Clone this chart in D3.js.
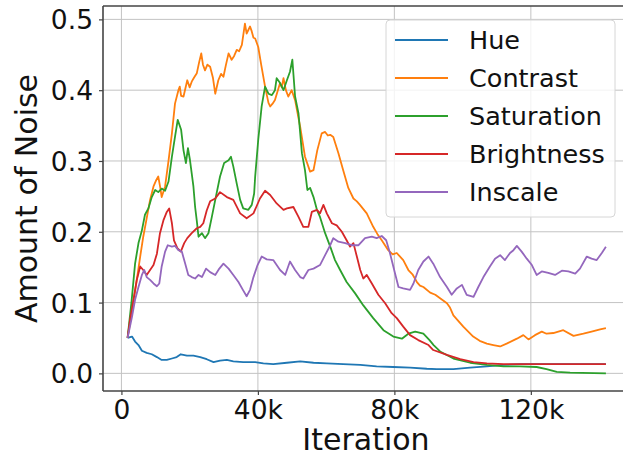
<!DOCTYPE html>
<html>
<head>
<meta charset="utf-8">
<script src="https://cdn.jsdelivr.net/npm/d3@7"></script>
<style>
  html, body { margin: 0; padding: 0; background: #fff; }
  svg { display: block; font-family: "DejaVu Sans", sans-serif; }
</style>
</head>
<body>
<svg id="chart" width="623" height="455"></svg>
<script>
// Noise amount per augmentation, sampled over training iterations (in thousands)
const hue = [[1.8,0.050],[3.1,0.052],[4,0.045],[5,0.040],[6,0.032],[7.4,0.029],[8.9,0.027],[10.4,0.023],[11.8,0.019],[13.3,0.019],[14.8,0.021],[16.2,0.023],[17.4,0.027],[19.2,0.025],[21.1,0.025],[23.1,0.023],[25,0.020],[27,0.016],[28.9,0.018],[30.9,0.019],[32.8,0.017],[35.7,0.016],[39.2,0.016],[41.6,0.014],[44.5,0.013],[48.5,0.015],[52.4,0.017],[56.3,0.015],[60.2,0.014],[65,0.013],[70,0.012],[74.8,0.010],[79.7,0.009],[84.6,0.008],[89.5,0.0065],[92.4,0.006],[97.3,0.006],[102.2,0.008],[107.1,0.010],[112,0.012],[116.8,0.013],[121.7,0.013],[130,0.013],[142,0.013]];

const contrast = [[1.8,0.050],[3,0.085],[4.5,0.132],[5.5,0.165],[6.4,0.193],[7.4,0.219],[8.4,0.245],[9.4,0.264],[10.1,0.272],[10.8,0.278],[11.4,0.262],[11.8,0.249],[12.8,0.264],[13.8,0.300],[14.8,0.339],[15.7,0.381],[16.7,0.400],[17.1,0.405],[17.5,0.392],[18.2,0.391],[19.3,0.414],[20.0,0.404],[20.6,0.412],[21.3,0.418],[22.1,0.424],[22.8,0.440],[23.4,0.452],[23.9,0.436],[24.5,0.428],[25.2,0.436],[26,0.433],[26.8,0.418],[27.5,0.395],[28.4,0.414],[29.2,0.423],[29.9,0.419],[30.6,0.435],[31.4,0.452],[32.3,0.443],[33.0,0.448],[33.8,0.457],[34.5,0.455],[35.3,0.464],[36.2,0.494],[36.7,0.480],[37.2,0.485],[37.7,0.490],[38.2,0.483],[38.7,0.474],[39.2,0.473],[40.1,0.461],[41.0,0.435],[42.1,0.405],[43.1,0.382],[43.6,0.377],[44.3,0.381],[45,0.386],[46.5,0.410],[47.0,0.404],[47.5,0.417],[48.2,0.400],[48.9,0.391],[49.9,0.400],[50.9,0.386],[52.4,0.348],[53.8,0.306],[55.3,0.285],[56.3,0.287],[57.4,0.315],[58.7,0.339],[59.7,0.341],[60.5,0.336],[61.2,0.337],[62.1,0.334],[63.6,0.311],[65,0.287],[66.5,0.262],[68,0.247],[69.0,0.243],[69.9,0.238],[71.9,0.226],[73.8,0.207],[75.0,0.197],[76.3,0.188],[78.2,0.174],[79.5,0.168],[80.7,0.170],[82.6,0.160],[84.1,0.146],[85.3,0.140],[86.6,0.129],[87.5,0.124],[88.5,0.122],[90.5,0.114],[92.0,0.111],[93.4,0.106],[95.4,0.099],[96.3,0.093],[97.3,0.082],[100.2,0.066],[103.1,0.052],[105,0.046],[107.1,0.042],[109,0.040],[111,0.038],[112.9,0.042],[115.9,0.049],[117.8,0.054],[119.3,0.048],[121.2,0.054],[123.2,0.059],[124.6,0.056],[126.6,0.057],[129.5,0.061],[132.5,0.053],[135.4,0.056],[137.8,0.059],[140.3,0.062],[142,0.064]];

const saturation = [[1.8,0.050],[3,0.103],[4,0.155],[5,0.184],[6,0.202],[6.9,0.224],[7.9,0.233],[8.9,0.249],[9.9,0.259],[10.8,0.256],[11.8,0.261],[12.8,0.258],[13.8,0.271],[14.8,0.306],[15.7,0.334],[16.5,0.358],[17.5,0.344],[18.2,0.315],[18.9,0.297],[19.5,0.318],[20.1,0.301],[21.1,0.264],[21.6,0.235],[22.1,0.215],[22.6,0.193],[23.6,0.198],[24.5,0.191],[25.5,0.198],[26.5,0.221],[27.5,0.245],[28.9,0.278],[30.1,0.297],[31.4,0.301],[32.1,0.306],[32.8,0.292],[33.8,0.268],[34.8,0.245],[35.7,0.233],[37.2,0.231],[38.2,0.238],[38.9,0.254],[39.2,0.278],[40.1,0.330],[41.1,0.377],[42.1,0.405],[43.1,0.395],[44.1,0.393],[45,0.400],[45.5,0.417],[46.5,0.410],[47.5,0.400],[48.5,0.414],[49.4,0.426],[50.1,0.443],[50.9,0.391],[51.9,0.367],[52.9,0.311],[53.8,0.287],[54.5,0.259],[55.3,0.262],[56.3,0.249],[57.3,0.231],[58.2,0.221],[59.7,0.198],[61.2,0.179],[62.6,0.160],[64.1,0.146],[66,0.129],[68.5,0.113],[70.9,0.096],[73.8,0.078],[76.8,0.061],[79.7,0.052],[82.2,0.049],[84.1,0.056],[86.1,0.059],[88.5,0.056],[90.3,0.047],[91.5,0.040],[93.4,0.031],[97.3,0.021],[102.2,0.015],[107.1,0.012],[112,0.010],[116.8,0.010],[121.7,0.009],[124.6,0.006],[127.6,0.002],[131.5,0.001],[142,0.000]];

const brightness = [[1.8,0.050],[2.5,0.075],[3.5,0.103],[4.5,0.132],[5.5,0.151],[6.4,0.146],[7.4,0.139],[8.4,0.146],[9.4,0.153],[10.4,0.169],[11.3,0.198],[12.3,0.216],[13.3,0.228],[14,0.233],[14.8,0.212],[15.4,0.188],[16.4,0.177],[17.4,0.172],[18.4,0.184],[19.3,0.191],[20.6,0.198],[22.1,0.205],[23.1,0.207],[24,0.212],[25,0.230],[26,0.243],[27.5,0.247],[28.9,0.256],[30.9,0.249],[32.8,0.245],[34.8,0.226],[36.7,0.219],[38.7,0.226],[40.6,0.247],[42.1,0.258],[43.6,0.252],[45.5,0.240],[47.5,0.231],[48.5,0.233],[50.4,0.235],[51.9,0.221],[53.3,0.207],[54.8,0.207],[55.8,0.228],[57.3,0.231],[58.2,0.226],[59.2,0.238],[60.2,0.226],[61.7,0.212],[63.1,0.209],[64.6,0.200],[66,0.188],[67,0.179],[68,0.184],[69,0.165],[70,0.146],[70.9,0.134],[71.9,0.139],[73.4,0.127],[75.3,0.111],[77.3,0.099],[79.2,0.085],[80.7,0.078],[82.6,0.066],[84.6,0.054],[87,0.047],[90,0.040],[91.4,0.033],[95.4,0.026],[99.3,0.020],[103.2,0.016],[107.1,0.014],[112,0.013],[142,0.013]];

const inscale = [[1.8,0.050],[3.1,0.080],[4,0.104],[5,0.122],[6,0.139],[6.7,0.146],[7.4,0.136],[8.4,0.132],[9.4,0.127],[10.4,0.123],[11.1,0.127],[11.8,0.151],[12.8,0.172],[13.6,0.181],[14.8,0.179],[15.7,0.180],[16.7,0.174],[17.7,0.172],[18.7,0.155],[19.6,0.139],[20.6,0.136],[21.6,0.134],[22.6,0.139],[23.6,0.136],[24.8,0.148],[26,0.143],[27.5,0.139],[28.7,0.148],[29.9,0.155],[31.4,0.148],[32.8,0.139],[34.3,0.129],[35.6,0.118],[36.7,0.109],[37.7,0.118],[38.7,0.136],[39.9,0.153],[41.1,0.165],[42.6,0.161],[44.5,0.160],[46.5,0.146],[48,0.139],[49.4,0.158],[50.9,0.146],[52.4,0.136],[53.3,0.134],[54.8,0.146],[56.3,0.148],[58.2,0.153],[59.7,0.167],[61.2,0.181],[62.1,0.191],[63.6,0.186],[65.6,0.184],[67.5,0.181],[69.5,0.181],[71.4,0.191],[73.4,0.193],[74.8,0.191],[76.3,0.194],[77.6,0.188],[78.7,0.170],[80.2,0.141],[81.2,0.122],[82.6,0.120],[84.6,0.118],[85.6,0.127],[87,0.146],[88.5,0.158],[90,0.165],[91.4,0.155],[93.4,0.136],[95.4,0.122],[96.8,0.111],[98.3,0.120],[99.8,0.125],[101.2,0.111],[103.2,0.108],[104.6,0.122],[106.1,0.136],[108,0.151],[109.5,0.162],[111,0.167],[112.4,0.160],[113.9,0.170],[114.9,0.174],[115.9,0.180],[117.3,0.172],[118.8,0.162],[120.3,0.153],[121.7,0.139],[123.2,0.144],[125.1,0.142],[127.1,0.139],[129.1,0.145],[131,0.144],[133,0.141],[134.4,0.148],[136.4,0.165],[137.8,0.162],[139.3,0.160],[140.8,0.170],[142,0.179]];

const seriesNames = ["Hue", "Contrast", "Saturation", "Brightness", "Inscale"];
const seriesData = [hue, contrast, saturation, brightness, inscale];
const seriesColors = ["#1f77b4", "#ff7f0e", "#2ca02c", "#d62728", "#9467bd"];
const xTicks = [0, 40, 80, 120];
const yTicks = [0.0, 0.1, 0.2, 0.3, 0.4, 0.5];

const svg = d3.select("#chart");
const plot = { left: 103, right: 631.5, top: 6, bottom: 391 };

const x = d3.scaleLinear().domain([-5.4, 149.5]).range([plot.left, plot.right]);
const y = d3.scaleLinear().domain([-0.0249, 0.5189]).range([plot.bottom, plot.top]);

svg.append("rect").attr("width", 623).attr("height", 455).attr("fill", "#fff");

// grid
const grid = svg.append("g").attr("stroke", "#b0b0b0").attr("stroke-width", 1).attr("opacity", 0.75);
grid.selectAll(".gx").data(xTicks).join("line")
  .attr("x1", d => x(d)).attr("x2", d => x(d))
  .attr("y1", plot.top).attr("y2", plot.bottom);
grid.selectAll(".gy").data(yTicks).join("line")
  .attr("x1", plot.left).attr("x2", plot.right)
  .attr("y1", d => y(d)).attr("y2", d => y(d));

// series lines
svg.append("clipPath").attr("id", "plotClip").append("rect")
  .attr("x", plot.left).attr("y", plot.top)
  .attr("width", plot.right - plot.left).attr("height", plot.bottom - plot.top);

const line = d3.line().x(d => x(d[0])).y(d => y(d[1]));
svg.append("g").attr("clip-path", "url(#plotClip)")
  .selectAll("path").data(seriesData).join("path")
  .attr("d", line)
  .attr("fill", "none")
  .attr("stroke", (d, i) => seriesColors[i])
  .attr("stroke-width", 1.8)
  .attr("stroke-linejoin", "round");

// axes
const tickFont = "26.5px";
const xAxis = svg.append("g").attr("transform", `translate(0,${plot.bottom})`)
  .call(d3.axisBottom(x).tickValues(xTicks).tickSize(4).tickFormat(d => d === 0 ? "0" : d + "k"));
xAxis.select(".domain").remove();
xAxis.selectAll("line").attr("stroke", "#444").attr("stroke-width", 1.2);
xAxis.selectAll("text").attr("font-size", tickFont).attr("fill", "#111")
  .attr("font-family", "DejaVu Sans").attr("dy", null).attr("y", 28.3);

const yAxis = svg.append("g").attr("transform", `translate(${plot.left},0)`)
  .call(d3.axisLeft(y).tickValues(yTicks).tickSize(4).tickPadding(6).tickFormat(d3.format(".1f")));
yAxis.select(".domain").remove();
yAxis.selectAll("line").attr("stroke", "#444").attr("stroke-width", 1.2);
yAxis.selectAll("text").attr("font-size", tickFont).attr("fill", "#111")
  .attr("font-family", "DejaVu Sans").attr("dy", "0.36em");

// spines (right spine lies beyond the visible width)
const spines = svg.append("g").attr("stroke", "#444").attr("stroke-width", 1.6).attr("fill", "none");
spines.append("line").attr("x1", plot.left).attr("x2", plot.left).attr("y1", plot.top).attr("y2", plot.bottom);
spines.append("line").attr("x1", plot.left).attr("x2", plot.right).attr("y1", plot.bottom).attr("y2", plot.bottom);
spines.append("line").attr("x1", plot.left).attr("x2", plot.right).attr("y1", plot.top).attr("y2", plot.top);

// axis labels
svg.append("text").attr("x", 366).attr("y", 450).attr("text-anchor", "middle")
  .attr("font-size", "30px").attr("fill", "#111").text("Iteration");
svg.append("text").attr("transform", "translate(37.3,198.5) rotate(-90)")
  .attr("text-anchor", "middle").attr("font-size", "30px").attr("fill", "#111").text("Amount of Noise");

// legend
const legend = svg.append("g");
legend.append("rect").attr("x", 386).attr("y", 20).attr("width", 229).attr("height", 197)
  .attr("rx", 4).attr("fill", "#fff").attr("fill-opacity", 0.8)
  .attr("stroke", "#d6d6d6").attr("stroke-width", 1);
const rows = legend.selectAll("g.row").data(seriesNames).join("g")
  .attr("transform", (d, i) => `translate(0,${40 + i * 38})`);
rows.append("line").attr("x1", 395).attr("x2", 448).attr("y1", 0).attr("y2", 0)
  .attr("stroke", (d, i) => seriesColors[i]).attr("stroke-width", 1.8);
rows.append("text").attr("x", 469).attr("y", 9.3).attr("font-size", "25.5px")
  .attr("fill", "#111").text(d => d);
</script>
</body>
</html>
